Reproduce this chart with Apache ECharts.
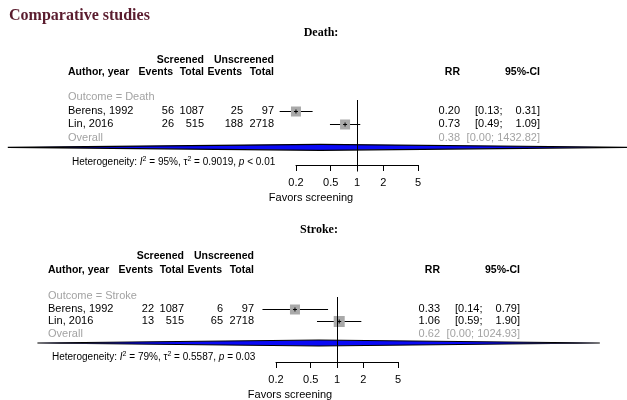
<!DOCTYPE html>
<html><head><meta charset="utf-8">
<script src="https://cdn.jsdelivr.net/npm/echarts@6/dist/echarts.min.js"></script>
<style>html,body{margin:0;padding:0;background:#fff}#c{width:627px;height:400px}</style>
</head><body><div id="c"></div>
<script>
// ---------------- DATA ----------------
const studies = ['Berens, 1992', 'Lin, 2016'];
const tickValues = [0.2, 0.5, 1, 2, 5];

const deathScreenedEvents = [56, 26];
const deathScreenedTotal = [1087, 515];
const deathUnscreenedEvents = [25, 188];
const deathUnscreenedTotal = [97, 2718];
const deathRR = [0.20, 0.73];
const deathLower = [0.13, 0.49];
const deathUpper = [0.31, 1.09];
const deathOverall = [0.38, 0.0001, 1432.82];   // RR, lower, upper
const deathHet = ['95%', '0.9019', '< 0.01'];   // I2, tau2, p

const strokeScreenedEvents = [22, 13];
const strokeScreenedTotal = [1087, 515];
const strokeUnscreenedEvents = [6, 65];
const strokeUnscreenedTotal = [97, 2718];
const strokeRR = [0.33, 1.06];
const strokeLower = [0.14, 0.59];
const strokeUpper = [0.79, 1.90];
const strokeOverall = [0.62, 0.00037, 1024.93];
const strokeHet = ['79%', '0.5587', '= 0.03'];

// ---------------- LAYOUT ----------------
const FONT = '"Liberation Sans", Arial, sans-serif';
const SERIF = '"Liberation Serif", "Times New Roman", serif';
const GRAY = '#a3a3a3';
const PXDEC = 87.3; // pixels per decade on the log axis

const panels = [
  { outcome: 'Death', title: 'Death:', titleX: 321, titleY: 33, dx: 0, h1: 60, h2: 72,
    row0: 97, rowH: 13.7, het: 162, axisY: 165, fav: 198, favX: 311, one: 357,
    refTop: 100, refBot: 171.5, dia: 147.3, sizes: [10, 10],
    se: deathScreenedEvents, st: deathScreenedTotal, ue: deathUnscreenedEvents, ut: deathUnscreenedTotal,
    rr: deathRR, lo: deathLower, hi: deathUpper, ov: deathOverall, het2: deathHet },
  { outcome: 'Stroke', title: 'Stroke:', titleX: 319, titleY: 230, dx: -20, h1: 256, h2: 270,
    row0: 296, rowH: 12.6, het: 357, axisY: 362, fav: 395, favX: 290, one: 337,
    refTop: 297, refBot: 368, dia: 343, sizes: [10, 11],
    se: strokeScreenedEvents, st: strokeScreenedTotal, ue: strokeUnscreenedEvents, ut: strokeUnscreenedTotal,
    rr: strokeRR, lo: strokeLower, hi: strokeUpper, ov: strokeOverall, het2: strokeHet }
];

const W = 627;
const grids = [], xAxes = [], yAxes = [], series = [], graphics = [];

function txt(text, x, y, opt) {
  opt = opt || {};
  graphics.push({
    type: 'text', z: 10,
    style: Object.assign({
      text: text, x: x, y: y,
      font: (opt.bold ? 'bold ' : '') + (opt.size || 11) + 'px ' + (opt.family || FONT),
      fill: opt.color || '#000',
      align: opt.align || 'left', verticalAlign: 'middle'
    }, opt.extra || {})
  });
}

txt('Comparative studies', 9, 16, { bold: true, size: 16, family: SERIF, color: '#5a1c2e' });

panels.forEach((P, pi) => {
  const dx = P.dx;
  const HB = 10.5;
  // ---------- text table ----------
  txt(P.title, P.titleX, P.titleY, { bold: true, size: 12, family: SERIF, align: 'center' });
  txt('Screened', 204 + dx, P.h1, { bold: true, size: HB, align: 'right' });
  txt('Unscreened', 274 + dx, P.h1, { bold: true, size: HB, align: 'right' });
  txt('Author, year', 68 + dx, P.h2, { bold: true, size: HB });
  txt('Events', 173 + dx, P.h2, { bold: true, size: HB, align: 'right' });
  txt('Total', 204 + dx, P.h2, { bold: true, size: HB, align: 'right' });
  txt('Events', 242 + dx, P.h2, { bold: true, size: HB, align: 'right' });
  txt('Total', 274 + dx, P.h2, { bold: true, size: HB, align: 'right' });
  txt('RR', 460 + dx, P.h2, { bold: true, size: HB, align: 'right' });
  txt('95%-CI', 540 + dx, P.h2, { bold: true, size: HB, align: 'right' });

  const rowY = r => P.row0 + r * P.rowH;
  txt('Outcome = ' + P.outcome, 68 + dx, rowY(0), { color: GRAY });
  studies.forEach((s, i) => {
    const y = rowY(i + 1);
    txt(s, 68 + dx, y);
    txt(String(P.se[i]), 174 + dx, y, { align: 'right' });
    txt(String(P.st[i]), 204 + dx, y, { align: 'right' });
    txt(String(P.ue[i]), 243 + dx, y, { align: 'right' });
    txt(String(P.ut[i]), 274 + dx, y, { align: 'right' });
    txt(P.rr[i].toFixed(2), 460 + dx, y, { align: 'right' });
    txt('[' + P.lo[i].toFixed(2) + ';', 475 + dx, y);
    txt(P.hi[i].toFixed(2) + ']', 540 + dx, y, { align: 'right' });
  });
  const yo = rowY(3);
  txt('Overall', 68 + dx, yo, { color: GRAY });
  txt(P.ov[0].toFixed(2), 460 + dx, yo, { color: GRAY, align: 'right' });
  txt('[' + P.ov[1].toFixed(2) + '; ' + P.ov[2].toFixed(2) + ']', 540 + dx, yo, { color: GRAY, align: 'right' });

  // heterogeneity
  graphics.push({
    type: 'text', z: 10,
    style: {
      x: 72 + dx, y: P.het, verticalAlign: 'middle', align: 'left',
      text: '{n|Heterogeneity: }{i|I}{s|2}{n| = ' + P.het2[0] + ', τ}{s|2}{n| = ' + P.het2[1] + ', }{i|p}{n| ' + P.het2[2] + '}',
      rich: {
        n: { fontSize: 10, fontFamily: FONT, fill: '#000', lineHeight: 13 },
        i: { fontSize: 10, fontFamily: FONT, fontStyle: 'italic', fill: '#000', lineHeight: 13 },
        s: { fontSize: 7, fontFamily: FONT, fill: '#000', verticalAlign: 'top', lineHeight: 8 }
      }
    }
  });
  txt('Favors screening', P.favX, P.fav, { align: 'center' });

  // ---------- data grid ----------
  const gTop = P.row0 - 0.5 * P.rowH, gH = 85;
  grids.push({ left: 0, top: gTop, width: W, height: gH });
  const gi = grids.length - 1;
  xAxes.push({
    type: 'log', gridIndex: gi, show: false,
    min: Math.pow(10, -P.one / PXDEC), max: Math.pow(10, (W - P.one) / PXDEC)
  });
  yAxes.push({ type: 'value', gridIndex: gi, show: false, inverse: true, min: -0.5, max: -0.5 + gH / P.rowH });
  const rowOf = px => (px - P.row0) / P.rowH;

  // diamond (overall)
  series.push({
    type: 'custom', xAxisIndex: gi, yAxisIndex: gi, clip: true, z: 2, silent: true,
    data: [[P.ov[0], P.ov[1], P.ov[2], rowOf(P.dia)]],
    renderItem: (params, api) => {
      const row = api.value(3);
      const c = api.coord([api.value(0), row]);
      const l = api.coord([api.value(1), row]);
      const h = api.coord([api.value(2), row]);
      const hh = 3;
      return {
        type: 'polygon',
        shape: { points: [[l[0], c[1]], [c[0], c[1] - hh], [h[0], c[1]], [c[0], c[1] + hh]] },
        style: { fill: '#0a0af5', stroke: '#000', lineWidth: 1.2 }
      };
    }
  });
  // studies
  series.push({
    type: 'custom', xAxisIndex: gi, yAxisIndex: gi, clip: true, z: 3, silent: true,
    data: studies.map((s, i) => [P.rr[i], P.lo[i], P.hi[i], i + 1]),
    renderItem: (params, api) => {
      const row = api.value(3);
      const c = api.coord([api.value(0), row]);
      const l = api.coord([api.value(1), row]);
      const h = api.coord([api.value(2), row]);
      const y = Math.round(c[1]) + 0.5;
      const sz = P.sizes[params.dataIndex];
      return {
        type: 'group', children: [
          { type: 'line', shape: { x1: l[0], y1: y, x2: h[0], y2: y }, style: { stroke: '#000', lineWidth: 1 } },
          { type: 'rect', shape: { x: c[0] - sz / 2, y: y - sz / 2, width: sz, height: sz }, style: { fill: '#a9a9a9' } },
          { type: 'line', shape: { x1: c[0] - 2, y1: y, x2: c[0] + 2, y2: y }, style: { stroke: '#000', lineWidth: 1 } },
          { type: 'line', shape: { x1: c[0], y1: y - 2, x2: c[0], y2: y + 2 }, style: { stroke: '#000', lineWidth: 1 } }
        ]
      };
    }
  });
  // reference line at RR = 1
  series.push({
    type: 'custom', xAxisIndex: gi, yAxisIndex: gi, clip: false, z: 4, silent: true,
    data: [[1, rowOf(P.refTop), rowOf(P.refBot)]],
    renderItem: (params, api) => {
      const a = api.coord([api.value(0), api.value(1)]);
      const b = api.coord([api.value(0), api.value(2)]);
      const x = Math.round(a[0]) + 0.5;
      return { type: 'line', shape: { x1: x, y1: a[1], x2: x, y2: b[1] }, style: { stroke: '#000', lineWidth: 1 } };
    }
  });

  // ---------- axis grid ----------
  const aLeft = P.one + Math.log10(tickValues[0]) * PXDEC;
  const aRight = P.one + Math.log10(tickValues[tickValues.length - 1]) * PXDEC;
  grids.push({ left: aLeft, top: P.axisY - 1, width: aRight - aLeft, height: 1 });
  const ai = grids.length - 1;
  xAxes.push({
    type: 'log', gridIndex: ai, min: tickValues[0], max: tickValues[tickValues.length - 1],
    axisLine: { show: true, lineStyle: { color: '#000', width: 1 } },
    axisTick: { show: true, customValues: tickValues, length: 6, lineStyle: { color: '#000', width: 1 } },
    axisLabel: { show: true, customValues: tickValues, margin: 12, fontSize: 11, fontFamily: FONT, color: '#000',
      formatter: v => String(+(+v).toPrecision(3)) },
    splitLine: { show: false }, minorTick: { show: false }
  });
  yAxes.push({ type: 'value', gridIndex: ai, show: false });
});

const chart = echarts.init(document.getElementById('c'), null, { renderer: 'canvas' });
chart.setOption({
  backgroundColor: '#fff',
  animation: false,
  grid: grids, xAxis: xAxes, yAxis: yAxes, series: series,
  graphic: { elements: graphics }
});
</script></body></html>
